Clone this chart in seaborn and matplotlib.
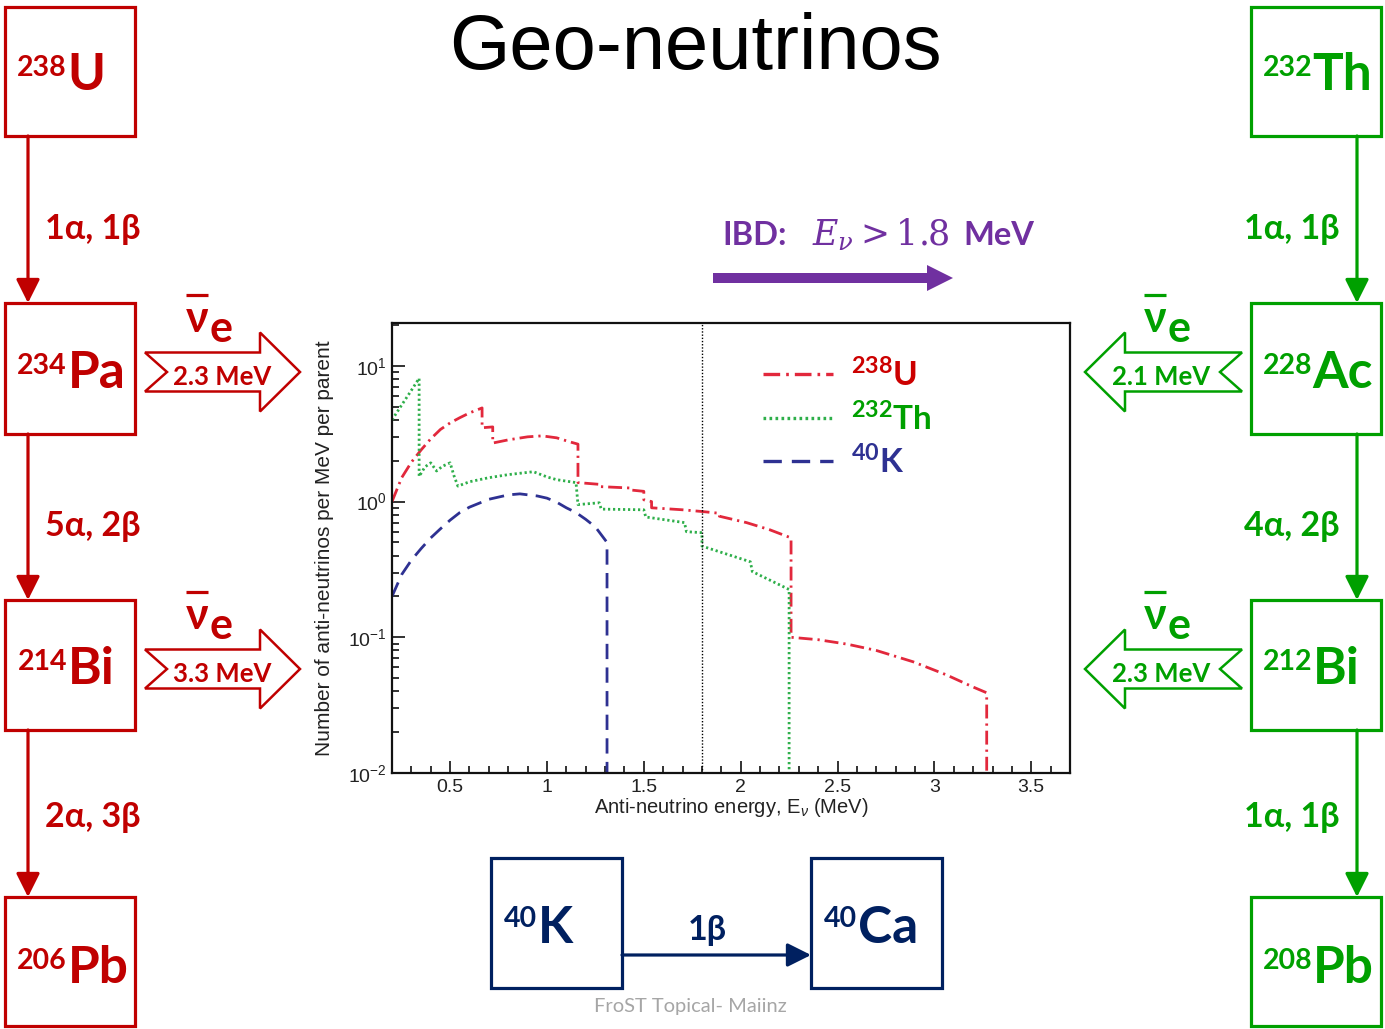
import matplotlib
matplotlib.use("Agg")
import matplotlib.pyplot as plt
import numpy as np
import pandas as pd
import seaborn as sns
from matplotlib.patches import Polygon, Rectangle, FancyArrow
from matplotlib.lines import Line2D
from matplotlib.ticker import MultipleLocator, LogLocator, NullFormatter

# ---------------- spectra: anti-neutrinos per MeV per parent ----------------
u_energy = [0.2, 0.25, 0.3, 0.35, 0.4, 0.45, 0.5, 0.55, 0.6, 0.665, 0.665, 0.72, 0.72,
            0.8, 0.9, 0.975, 1.05, 1.12, 1.16, 1.16, 1.27, 1.27, 1.425, 1.425, 1.50, 1.50,
            1.54, 1.54, 1.7, 1.8, 1.89, 1.89, 2.03, 2.15, 2.26, 2.26, 2.4, 2.55, 2.7, 2.89,
            3.06, 3.2, 3.27, 3.27]
u_flux = [1.0, 1.5, 1.95, 2.4, 2.9, 3.4, 3.8, 4.15, 4.5, 4.9, 3.5, 3.55, 2.7,
          2.85, 3.0, 3.05, 2.95, 2.75, 2.65, 1.38, 1.34, 1.29, 1.26, 1.22, 1.19, 1.03,
          1.0, 0.9, 0.87, 0.845, 0.82, 0.78, 0.70, 0.62, 0.54, 0.10, 0.096, 0.089, 0.08, 0.066,
          0.053, 0.043, 0.039, 0.005]

th_energy = [0.2, 0.25, 0.3, 0.34, 0.34, 0.37, 0.40, 0.43, 0.46, 0.50, 0.52, 0.54, 0.6,
             0.7, 0.8, 0.93, 1.0, 1.05, 1.15, 1.16, 1.27, 1.28, 1.50, 1.51, 1.71, 1.72,
             1.80, 1.80, 2.05, 2.06, 2.25, 2.25]
th_flux = [4.0, 5.15, 6.6, 8.1, 1.53, 1.8, 1.93, 1.68, 1.82, 1.93, 1.55, 1.3, 1.4,
           1.5, 1.58, 1.66, 1.52, 1.45, 1.38, 0.95, 0.98, 0.88, 0.87, 0.77, 0.70, 0.60,
           0.59, 0.47, 0.36, 0.305, 0.225, 0.005]

k_energy = [0.2, 0.25, 0.3, 0.35, 0.4, 0.45, 0.5, 0.55, 0.6, 0.7, 0.8, 0.86, 0.95,
            1.0, 1.05, 1.1, 1.15, 1.2, 1.25, 1.31, 1.31]
k_flux = [0.2, 0.29, 0.37, 0.45, 0.54, 0.63, 0.73, 0.83, 0.91, 1.04, 1.12, 1.14, 1.10,
          1.06, 0.99, 0.9, 0.83, 0.74, 0.65, 0.5, 0.005]

parents = ["238U", "232Th", "40K"]
legend_labels = [r"$^{\mathbf{238}}$U", r"$^{\mathbf{232}}$Th", r"$^{\mathbf{40}}$K"]
ibd_threshold = 1.8
x_ticks = [0.5, 1, 1.5, 2, 2.5, 3, 3.5]

# ---------------- decay chains ----------------
u_chain = [("238", "U"), ("234", "Pa"), ("214", "Bi"), ("206", "Pb")]
u_steps = ["1α, 1β", "5α, 2β", "2α, 3β"]
u_nu_energies = ["2.3 MeV", "3.3 MeV"]
th_chain = [("232", "Th"), ("228", "Ac"), ("212", "Bi"), ("208", "Pb")]
th_steps = ["1α, 1β", "4α, 2β", "1α, 1β"]
th_nu_energies = ["2.1 MeV", "2.3 MeV"]
k_chain = [("40", "K"), ("40", "Ca")]
k_step = "1β"

RED = "#C00000"
GREEN = "#00A000"
NAVY = "#002060"
PURPLE = "#7030A0"
line_colors = {"238U": "#E2283C", "232Th": "#2EAF4A", "40K": "#2E3192"}
label_colors = ["#CC0000", "#00A000", "#2E3192"]
dash_map = {"238U": (5, 1.8, 0.8, 1.8), "232Th": (0.8, 1.0), "40K": (5.5, 3.0)}

sns.set_style("ticks")
plt.rcParams.update({
    "font.family": ["Liberation Sans", "DejaVu Sans"],
    "mathtext.fontset": "custom",
    "mathtext.rm": "Liberation Sans",
    "mathtext.it": "Liberation Sans:italic",
    "mathtext.bf": "Lato:bold",
})
DIA = ["Lato", "DejaVu Sans"]

W, H = 1385, 1029
fig = plt.figure(figsize=(W / 100, H / 100), dpi=100)
cv = fig.add_axes([0, 0, 1, 1])
cv.set_xlim(0, W)
cv.set_ylim(H, 0)
cv.axis("off")

# title
cv.text(695, 69, "Geo-neutrinos", fontsize=56, family=["Liberation Sans"],
        ha="center", va="baseline", color="black")


def nuclide(x_split, y_base, mass, sym, color, dy=14):
    cv.text(x_split, y_base - dy, mass, fontsize=20.5, fontweight="bold", family=DIA,
            color=color, ha="right", va="baseline")
    cv.text(x_split + 0.5, y_base, sym, fontsize=37, fontweight="bold", family=DIA,
            color=color, ha="left", va="baseline")


def box(x0, x1, y0, y1, color):
    cv.add_patch(Rectangle((x0, y0), x1 - x0, y1 - y0, fill=False, ec=color, lw=2.3))


def down_arrow(x, y0, y1, color):
    cv.annotate("", xy=(x, y1), xytext=(x, y0),
                arrowprops=dict(arrowstyle="-|>,head_length=0.9,head_width=0.45",
                                color=color, lw=2.3, shrinkA=0, shrinkB=0,
                                mutation_scale=16))


def hollow_arrow(yc, x_tail, x_notch, x_head, x_tip, color):
    bh, hh = 19.5, 39.5
    pts = [(x_tail, yc - bh), (x_head, yc - bh), (x_head, yc - hh), (x_tip, yc),
           (x_head, yc + hh), (x_head, yc + bh), (x_tail, yc + bh), (x_notch, yc)]
    cv.add_patch(Polygon(pts, closed=True, fc="white", ec=color, lw=1.8, joinstyle="miter"))


def antinu(x_nu, y_base, color):
    cv.text(x_nu, y_base, "ν", fontsize=31, fontweight="bold", family=DIA, color=color,
            ha="center", va="baseline")
    cv.plot([x_nu - 11, x_nu + 11], [y_base - 37, y_base - 37], color=color, lw=2.3,
            solid_capstyle="butt")
    cv.text(x_nu + 24, y_base + 10, "e", fontsize=31, fontweight="bold", family=DIA,
            color=color, ha="center", va="baseline")


box_rows = [(7, 136), (303, 434), (600, 730), (897, 1026)]
baselines = [90, 388, 684, 983]
step_y = [227, 524, 815]

# uranium chain (left)
for (y0, y1), (m, s), yb in zip(box_rows, u_chain, baselines):
    box(5, 135, y0, y1, RED)
    nuclide(67, yb, m, s, RED)
for i, lab in enumerate(u_steps):
    down_arrow(28, box_rows[i][1], box_rows[i + 1][0], RED)
    cv.text(93, step_y[i] + 12, lab, fontsize=24.5, fontweight="bold", family=DIA,
            color=RED, ha="center", va="baseline")
for yc, e in zip([372, 669], u_nu_energies):
    hollow_arrow(yc, 145, 167, 260, 300, RED)
    cv.text(222, yc + 13, e, fontsize=18.5, fontweight="bold", family=DIA, color=RED,
            ha="center", va="baseline")
    antinu(197, yc - 40, RED)

# thorium chain (right)
for (y0, y1), (m, s), yb in zip(box_rows, th_chain, baselines):
    box(1251, 1381, y0, y1, GREEN)
    nuclide(1312, yb, m, s, GREEN)
for i, lab in enumerate(th_steps):
    down_arrow(1357, box_rows[i][1], box_rows[i + 1][0], GREEN)
    cv.text(1292, step_y[i] + 12, lab, fontsize=24.5, fontweight="bold", family=DIA,
            color=GREEN, ha="center", va="baseline")
for yc, e in zip([372, 669], th_nu_energies):
    hollow_arrow(yc, 1242, 1220, 1125, 1085, GREEN)
    cv.text(1161, yc + 13, e, fontsize=18.5, fontweight="bold", family=DIA, color=GREEN,
            ha="center", va="baseline")
    antinu(1155, yc - 40, GREEN)

# potassium (bottom)
box(491, 622, 858, 988, NAVY)
box(811, 942, 858, 988, NAVY)
nuclide(537, 943, k_chain[0][0], k_chain[0][1], NAVY, dy=16)
nuclide(857, 943, k_chain[1][0], k_chain[1][1], NAVY, dy=16)
cv.annotate("", xy=(811, 955), xytext=(622, 955),
            arrowprops=dict(arrowstyle="-|>,head_length=0.8,head_width=0.4", color=NAVY,
                            lw=2.3, shrinkA=0, shrinkB=0, mutation_scale=18))
cv.text(707, 940, k_step, fontsize=24.5, fontweight="bold", family=DIA, color=NAVY,
        ha="center", va="baseline")
cv.text(690, 1012, "FroST Topical- Maiinz", fontsize=14.5, family=DIA, color="#A6A6A6",
        ha="center", va="baseline")

# IBD threshold annotation
cv.text(722, 245, "IBD:", fontsize=23.5, fontweight="bold", family=DIA, color=PURPLE,
        ha="left", va="baseline")
cv.text(812, 245, r"$E_{\nu} > 1.8$", fontsize=25, math_fontfamily="dejavuserif",
        color=PURPLE, ha="left", va="baseline")
cv.text(963, 245, "MeV", fontsize=23.5, fontweight="bold", family=DIA, color=PURPLE,
        ha="left", va="baseline")
cv.add_patch(FancyArrow(713, 278, 240, 0, width=10, head_width=26, head_length=26,
                        length_includes_head=True, color=PURPLE, lw=0))

# ---------------- spectrum plot ----------------
ax = fig.add_axes([392 / W, 1 - 773 / H, 678 / W, 450 / H])
df = pd.concat([
    pd.DataFrame({"energy": u_energy, "flux": u_flux, "parent": "238U"}),
    pd.DataFrame({"energy": th_energy, "flux": th_flux, "parent": "232Th"}),
    pd.DataFrame({"energy": k_energy, "flux": k_flux, "parent": "40K"}),
], ignore_index=True)
ax.set_yscale("log")
sns.lineplot(data=df, x="energy", y="flux", hue="parent", style="parent",
             palette=line_colors, dashes=dash_map, sort=False, estimator=None,
             lw=2.0, legend=False, ax=ax)
ax.axvline(ibd_threshold, color="black", lw=1.0, ls=(0, (1, 1.3)))

ax.set_xlim(0.2, 3.7)
ax.set_ylim(0.01, 20.7)
ax.set_xticks(x_ticks)
ax.set_xticklabels([f"{t:g}" for t in x_ticks])
ax.xaxis.set_minor_locator(MultipleLocator(0.1))
ax.yaxis.set_major_locator(LogLocator(base=10, numticks=10))
ax.yaxis.set_minor_locator(LogLocator(base=10, subs=np.arange(2, 10), numticks=20))
ax.yaxis.set_minor_formatter(NullFormatter())
ax.tick_params(which="both", direction="in", top=False, right=False, width=1.3,
               labelsize=14, color="#222222", labelcolor="#222222")
ax.tick_params(which="major", length=9, pad=4)
ax.tick_params(which="minor", length=5)
for sp in ax.spines.values():
    sp.set_visible(True)
    sp.set_linewidth(1.6)
    sp.set_color("#111111")

ax.set_xlabel(r"Anti-neutrino energy, E$_{\nu}$ (MeV)", fontsize=14.5, color="#222222")
ax.set_ylabel("Number of anti-neutrinos per MeV per parent", fontsize=15, color="#222222")
ax.xaxis.set_label_coords(0.5, -0.052)
ax.yaxis.set_label_coords(-0.086, 0.5)

handles = [Line2D([], [], color=line_colors[p], lw=2.4, dashes=dash_map[p]) for p in parents]
leg = ax.legend(handles, legend_labels, loc="upper left", bbox_to_anchor=(0.522, 0.962),
                frameon=False, borderpad=0, handlelength=2.1, handletextpad=0.55,
                labelspacing=0.3, prop=dict(family=DIA, weight="bold", size=24))
for t, c in zip(leg.get_texts(), label_colors):
    t.set_color(c)

fig.savefig("out.png", dpi=100)
